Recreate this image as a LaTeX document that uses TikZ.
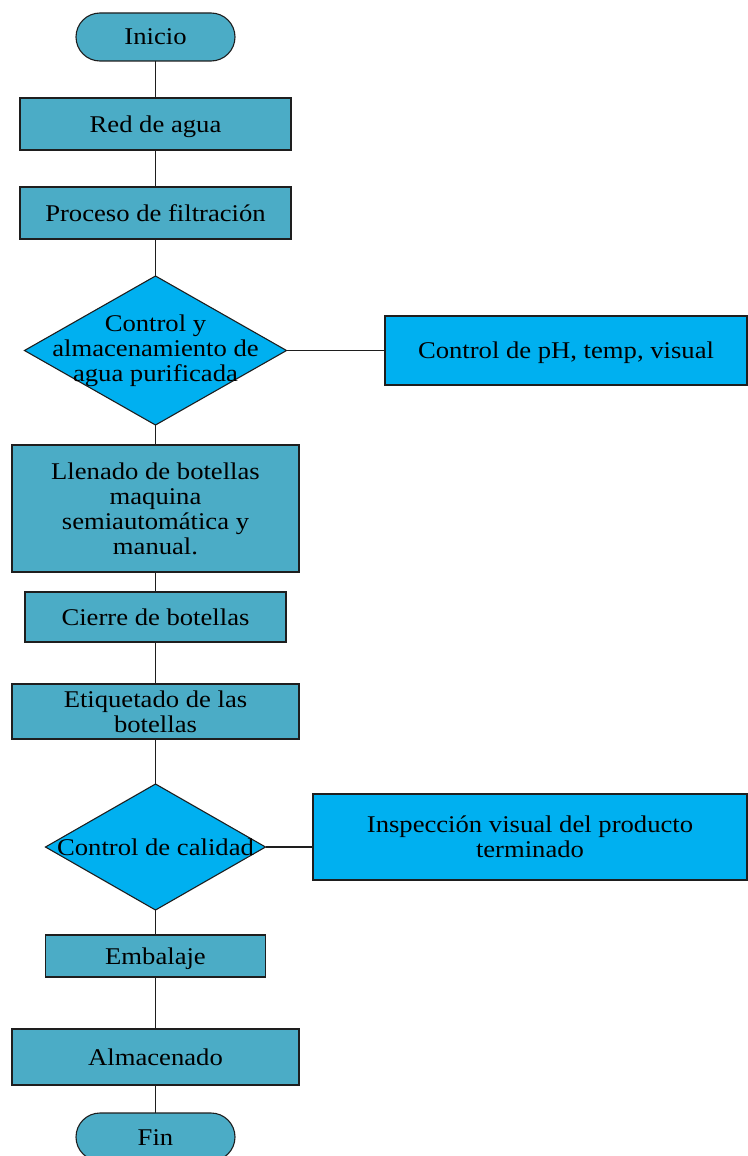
\documentclass[tikz,border=0pt]{standalone}
\usepackage{fontspec}
\setmainfont{Liberation Serif}[FakeStretch=1.11]
\usetikzlibrary{shapes.geometric}
\definecolor{procfill}{RGB}{75,172,198}
\definecolor{checkfill}{RGB}{0,176,240}
\definecolor{edge}{RGB}{30,30,30}
\begin{document}
\begin{tikzpicture}[x=1pt,y=-1pt,
  every node/.style={font=\fontsize{24}{25}\selectfont, align=center, inner sep=0pt, outer sep=0pt},
  terminal/.style={draw=edge, line width=1.1pt, fill=procfill, rectangle, rounded corners=24pt,
    minimum width=159pt, minimum height=48pt},
  procbox/.style={draw=edge, line width=1.1pt, fill=procfill, rectangle},
  decision/.style={draw=edge, line width=1.1pt, fill=checkfill, diamond},
  checkbox/.style={draw=edge, line width=1.1pt, fill=checkfill, rectangle},
  oneline/.style={text height=19pt, text depth=3pt},
  link/.style={draw=edge, line width=1.1pt}]
\useasboundingbox (0,0) rectangle (747,1156);
\fill[white] (0,0) rectangle (747,1156);

% main flow
\node[terminal, oneline] (ini) at (155.5,37) {Inicio};
\node[procbox, oneline, minimum width=271pt, minimum height=52pt] (red) at (155.5,124) {Red de agua};
\node[procbox, oneline, minimum width=271pt, minimum height=52pt] (fil) at (155.5,213) {Proceso de filtración};
\node[decision, minimum width=262pt, minimum height=149pt] (d1) at (155.5,350.5) {};
\node at (d1) {Control y\\almacenamiento de\\agua purificada};
\node[procbox, minimum width=287pt, minimum height=127pt] (llen) at (155.5,508.5)
  {Llenado de botellas\\maquina\\semiautomática y\\manual.};
\node[procbox, oneline, minimum width=261pt, minimum height=50pt] (cie) at (155.5,617) {Cierre de botellas};
\node[procbox, minimum width=287pt, minimum height=55pt] (eti) at (155.5,711.5) {Etiquetado de las\\botellas};
\node[decision, minimum width=220pt, minimum height=126pt] (d2) at (155.5,847) {};
\node[oneline] at (d2) {Control de calidad};
\node[procbox, oneline, minimum width=220pt, minimum height=42pt] (emb) at (155.5,956) {Embalaje};
\node[procbox, oneline, minimum width=287pt, minimum height=56pt] (alm) at (155.5,1057) {Almacenado};
\node[terminal, oneline] (fin) at (155.5,1137) {Fin};

% side checks
\node[checkbox, oneline, minimum width=362pt, minimum height=69pt] (ph) at (566,350.5) {Control de pH, temp, visual};
\node[checkbox, minimum width=434pt, minimum height=86pt] (insp) at (530,837) {Inspección visual del producto\\terminado};

% connectors
\path[link] (ini) -- (red);
\path[link] (red) -- (fil);
\path[link] (fil) -- (d1);
\path[link] (d1) -- (llen);
\path[link] (llen) -- (cie);
\path[link] (cie) -- (eti);
\path[link] (eti) -- (d2);
\path[link] (d2) -- (emb);
\path[link] (emb) -- (alm);
\path[link] (alm) -- (fin);
\path[link] (d1.east) -- (ph.west);
\path[link] (d2.east) -- (insp.west |- d2.east);
\end{tikzpicture}
\end{document}
